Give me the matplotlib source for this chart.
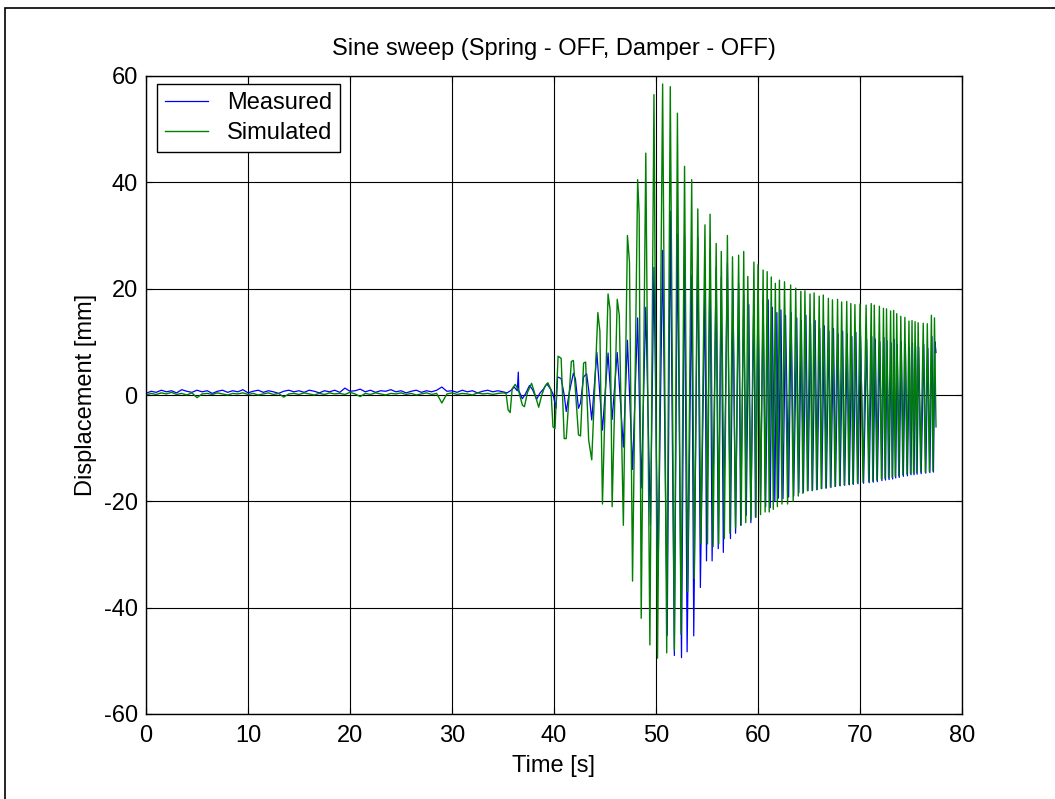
import numpy as np
import matplotlib
matplotlib.use("Agg")
import matplotlib.pyplot as plt
from matplotlib.patches import Rectangle

plt.rcParams['font.family'] = ['Liberation Sans', 'DejaVu Sans']
plt.rcParams['axes.unicode_minus'] = False

FS = 17

# quiet part (0 - 34.5 s), one value every 0.5 s
meas_quiet = [0.3, 0.7, 0.5, 0.9, 0.6, 0.8, 0.4, 1.0, 0.7, 0.5, 0.9, 0.6, 0.8, 0.3, 0.7, 0.9, 0.5, 0.8, 0.6, 1.0,
              0.4, 0.7, 0.9, 0.5, 0.8, 0.6, 0.3, 0.7, 0.9, 0.6, 0.8, 0.5, 0.9, 0.7, 0.4, 0.8, 0.6, 0.9, 0.5, 1.3,
              0.7, 0.8, 1.1, 0.6, 0.9, 0.5, 0.8, 0.7, 1.0, 0.6, 0.8, 0.4, 0.7, 0.9, 0.5, 0.8, 0.6, 0.9, 1.5, 0.7,
              0.8, 0.5, 0.9, 0.6, 0.8, 0.4, 0.7, 0.9, 0.6, 0.8]
sim_quiet = [0.0, 0.3, 0.1, 0.4, 0.2, 0.5, 0.1, 0.3, 0.0, 0.4, -0.5, 0.2, 0.3, 0.1, 0.4, 0.2, 0.0, 0.3, 0.2, 0.4,
             0.1, 0.3, 0.0, 0.2, 0.4, 0.1, 0.3, -0.4, 0.2, 0.3, 0.1, 0.4, 0.2, 0.0, 0.3, 0.1, 0.4, 0.2, 0.3, 0.1,
             0.5, 0.2, -0.3, 0.3, 0.1, 0.4, 0.2, 0.0, 0.3, 0.2, 0.4, 0.1, 0.3, 0.0, 0.2, 0.4, 0.1, 0.3, -1.5, 0.2,
             0.4, 0.1, 0.3, 0.2, 0.0, 0.4, 0.2, 0.3, 0.1, 0.3]

# sweep part: turning points (time [s], displacement [mm])
meas_t = [35.0, 35.4, 35.8, 36.1, 36.4, 36.5, 36.55, 36.9, 37.2, 37.6, 37.9, 38.3, 38.6, 39.0, 39.3, 39.7, 39.9,
          40.2, 40.35, 40.7, 41.0, 41.2, 41.5, 41.9, 42.1, 42.4, 42.6, 42.9, 43.2, 43.4, 43.7, 44.0,
          44.2, 44.75, 45.3, 45.7, 46.2, 46.8, 47.2, 47.7, 48.2, 48.55, 49.0, 49.45, 49.8, 50.2,
          50.65, 51.1, 51.4, 51.8, 52.1, 52.5, 52.8, 53.05, 53.5, 53.7, 54.1, 54.35, 54.8, 54.95,
          55.3, 55.5, 55.9, 56.1, 56.4, 56.6, 57.0, 57.3, 57.55, 57.8, 58.1, 58.3, 58.6, 58.85,
          59.1, 59.3, 59.6, 59.75, 60.0, 60.25, 60.5, 60.75, 61.0, 61.2, 61.4, 61.65, 61.85, 62.0,
          62.25, 62.45, 62.7, 63.0, 63.25, 63.5, 63.8, 64.0, 64.25, 64.45, 64.7, 64.9, 65.15, 65.35,
          65.6, 65.8, 66.05, 66.25, 66.5, 66.7, 66.95, 67.15, 67.4, 67.6, 67.85, 68.05, 68.3, 68.5,
          68.75, 68.95, 69.2, 69.35, 69.6, 69.8, 70.05, 70.35, 70.65, 70.9, 71.15, 71.3, 71.5, 71.7,
          71.95, 72.15, 72.35, 72.5, 72.65, 72.85, 73.05, 73.2, 73.35, 73.5, 73.65, 73.85, 74.05, 74.25,
          74.45, 74.65, 74.85, 75.0, 75.15, 75.3, 75.45, 75.6, 75.75, 76.0, 76.25, 76.45, 76.65, 76.85,
          77.05, 77.2, 77.35, 77.45]
meas_y = [0.6, 0.4, 0.9, 1.5, 0.8, 4.3, 0.8, -0.7, 0.2, 1.8, 1.0, -0.8, 0.3, 1.2, 2.1, 1.0, 0.2,
          -2.5, 3.4, 3.1, 0.0, -3.1, 0.5, 4.1, 3.0, -2.5, -1.5, 3.4, 4.0, 1.0, -4.7, 3.0,
          8.0, -6.6, 7.9, -4.6, 8.0, -9.8, 10.3, -14.0, 14.5, -17.5, 16.5, -24.5, 24.0, -34.0,
          27.2, -45.2, 34.6, -49.0, 30.3, -49.4, 30.0, -48.3, 22.6, -45.3, 29.5, -36.2, 21.0, -31.2,
          27.2, -31.2, 24.0, -28.9, 22.2, -29.6, 24.8, -27.0, 20.0, -26.0, 21.0, -24.5, 19.0, -22.6,
          17.0, -24.0, 19.5, -23.0, 17.5, -20.0, 18.0, -21.0, 17.9, -21.2, 16.5, -20.0, 15.5, -19.4,
          16.0, -19.5, 15.0, -19.2, 15.5, -19.0, 14.5, -18.4, 14.0, -18.3, 15.0, -18.0, 13.5, -17.9,
          14.0, -17.8, 12.5, -17.6, 13.0, -17.5, 12.0, -17.4, 12.5, -17.2, 11.5, -17.1, 12.0, -17.0,
          11.5, -16.9, 11.0, -16.8, 11.8, -16.7, 11.0, -16.6, 10.5, -16.5, 11.0, -16.4, 10.5, -16.3,
          10.0, -16.1, 10.8, -16.0, 10.2, -15.9, 9.8, -15.8, 10.5, -15.6, 9.5, -15.5, 10.0, -15.3,
          9.5, -15.2, 9.0, -15.0, 9.8, -15.0, 9.2, -14.9, 9.0, -14.8, 9.5, -14.7, 8.8, -14.6,
          11.0, -14.5, 10.0, 8.0]

sim_t = [35.0, 35.3, 35.5, 35.7, 35.9, 36.2, 36.5, 36.9, 37.1, 37.4, 37.8, 38.0, 38.5, 38.8, 39.1, 39.4, 39.7,
         39.9, 40.1, 40.4, 40.7, 41.0, 41.2, 41.7, 41.9, 42.4, 42.6, 42.9, 43.1, 43.4, 43.7,
         44.3, 44.5, 44.75, 45.3, 45.5, 45.7, 46.2, 46.4, 46.8, 47.2, 47.4, 47.7, 48.2, 48.35, 48.55,
         49.0, 49.4, 49.8, 50.15, 50.65, 51.05, 51.4, 51.8, 52.1, 52.45, 52.8, 53.1, 53.5, 53.75,
         54.1, 54.4, 54.8, 55.05, 55.3, 55.6, 55.9, 56.15, 56.4, 56.7, 57.0, 57.25, 57.5, 57.8,
         58.1, 58.35, 58.6, 58.8, 59.0, 59.3, 59.6, 59.8, 60.0, 60.25, 60.5, 60.7, 60.9, 61.1,
         61.3, 61.5, 61.7, 61.9, 62.1, 62.35, 62.6, 62.9, 63.2, 63.45, 63.7, 63.95, 64.2, 64.4,
         64.6, 64.85, 65.1, 65.3, 65.5, 65.75, 66.0, 66.2, 66.4, 66.65, 66.9, 67.1, 67.3, 67.55,
         67.8, 68.0, 68.2, 68.45, 68.7, 68.9, 69.1, 69.3, 69.5, 69.75, 70.0, 70.3, 70.6, 70.85,
         71.1, 71.25, 71.4, 71.65, 71.9, 72.1, 72.3, 72.45, 72.6, 72.8, 73.0, 73.15, 73.3, 73.45,
         73.6, 73.8, 74.0, 74.2, 74.4, 74.6, 74.8, 74.95, 75.1, 75.25, 75.4, 75.55, 75.7, 75.95,
         76.2, 76.4, 76.6, 76.8, 77.0, 77.15, 77.3, 77.45]
sim_y = [0.4, 0.3, -2.8, -3.3, 1.2, 2.0, 1.0, -1.9, -2.2, 0.5, 2.2, 1.0, -2.3, 0.0, 1.6, 2.3, 1.0,
         -6.0, -6.3, 7.3, 6.9, -8.2, -8.2, 6.3, 6.5, -7.5, -7.7, 6.0, 6.2, -8.5, -12.2,
         15.5, 12.0, -20.5, 19.0, 16.0, -21.0, 18.0, 15.0, -24.5, 30.0, 25.0, -35.0, 40.5, 34.0, -42.0,
         45.5, -47.0, 56.5, -49.5, 58.5, -48.5, 58.0, -48.0, 53.0, -45.0, 43.0, -37.0, 40.5, -34.5,
         35.0, -28.0, 32.0, -28.0, 34.0, -28.5, 28.5, -28.0, 27.0, -27.0, 30.0, -26.0, 26.0, -25.0,
         26.3, -24.5, 27.0, -24.0, 22.3, -23.5, 25.0, -23.0, 24.5, -22.5, 23.5, -22.0, 23.2, -22.0,
         22.2, -21.5, 21.0, -21.0, 21.6, -20.5, 21.3, -20.5, 20.7, -20.0, 20.1, -19.0, 19.5, -18.5,
         19.6, -18.0, 19.0, -18.0, 19.2, -17.8, 18.6, -17.6, 18.8, -17.5, 18.2, -17.3, 17.9, -17.2,
         18.0, -17.0, 17.5, -16.9, 17.6, -16.8, 17.2, -16.7, 17.0, -16.5, 17.1, -16.4, 16.9, -16.3,
         17.2, -16.2, 16.9, -16.0, 16.7, -15.8, 16.3, -15.7, 16.2, -15.6, 15.8, -15.5, 15.9, -15.3,
         15.3, -15.2, 14.8, -15.0, 14.6, -14.9, 13.9, -14.8, 14.0, -14.7, 13.8, -14.6, 13.6, -14.5,
         13.5, -14.5, 13.4, -14.4, 15.0, -14.3, 14.5, -6.0]

quiet_t = np.arange(len(meas_quiet)) * 0.5

t_meas = np.concatenate([quiet_t, meas_t])
y_meas = np.concatenate([meas_quiet, meas_y])
t_sim = np.concatenate([quiet_t, sim_t])
y_sim = np.concatenate([sim_quiet, sim_y])

fig = plt.figure(figsize=(10.55, 7.99), dpi=100)
ax = fig.add_axes([146 / 1055, 1 - 714 / 799, 816 / 1055, 638 / 799])

# outer frame of the exported figure (partly cut off)
fig.patches.append(Rectangle((5 / 1055, -0.1), 1.2, 1.1 - 8 / 799, transform=fig.transFigure,
                             fill=False, edgecolor='black', linewidth=1.2))

ax.plot(t_meas, y_meas, color='#0000ff', linewidth=0.9, label='Measured')
ax.plot(t_sim, y_sim, color='#008000', linewidth=1.0, label='Simulated')

ax.set_xlim(0, 80)
ax.set_ylim(-60, 60)
ax.set_xticks(range(0, 81, 10))
ax.set_yticks(range(-60, 61, 20))
ax.grid(True, color='black', linewidth=0.8)
ax.set_axisbelow(True)
ax.tick_params(direction='in', length=4, labelsize=FS, top=True, right=True)
ax.tick_params(axis='x', pad=8)
ax.tick_params(axis='y', pad=6)
for s in ax.spines.values():
    s.set_linewidth(1.0)

ax.set_title('Sine sweep (Spring - OFF, Damper - OFF)', fontsize=FS, pad=15)
ax.set_xlabel('Time [s]', fontsize=FS, labelpad=6)
ax.set_ylabel('Displacement [mm]', fontsize=FS, labelpad=5)

leg = ax.legend(loc='upper left', bbox_to_anchor=(11 / 816, 1 - 8 / 638), borderaxespad=0,
                fontsize=FS, fancybox=False, framealpha=1, edgecolor='black',
                handlelength=1.8, handletextpad=0.8, borderpad=0.35, labelspacing=0.33)
leg.get_frame().set_linewidth(1.0)

fig.savefig('out.png', dpi=100)
